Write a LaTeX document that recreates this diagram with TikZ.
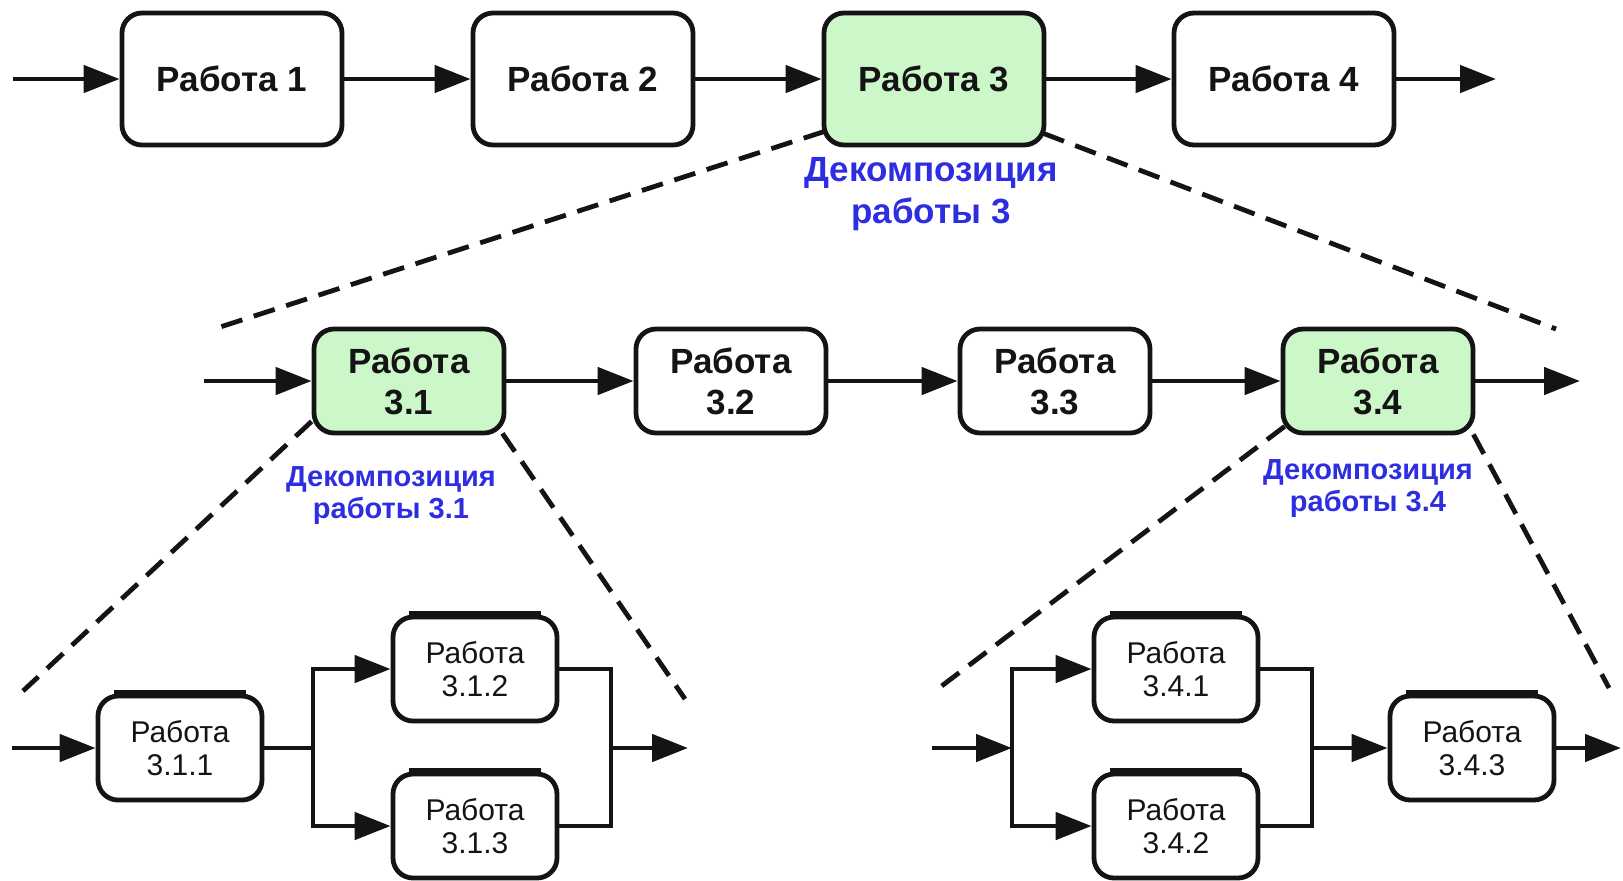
\documentclass[tikz,border=0pt]{standalone}
\usepackage{fontspec}
\setmainfont{Liberation Sans}
\usetikzlibrary{arrows.meta,calc,backgrounds}
\definecolor{boxgreen}{RGB}{204,247,200}
\definecolor{lblue}{RGB}{45,45,225}
\definecolor{ink}{RGB}{20,20,20}
\begin{document}
\begin{tikzpicture}[x=0.5pt,y=-0.5pt,
  task/.style={draw=ink, line width=2.4pt, rounded corners=10pt, fill=white, inner sep=0pt, align=center, text=ink},
  bigtask/.style={task, minimum width=110pt, minimum height=66pt, font=\bfseries\fontsize{17.5}{21}\selectfont},
  midtask/.style={task, minimum width=95pt, minimum height=52pt, font=\bfseries\fontsize{17.5}{20.5}\selectfont},
  smalltask/.style={task, minimum width=82pt, minimum height=52pt, font=\fontsize{15}{16.5}\selectfont},
  sel/.style={fill=boxgreen},
  flow/.style={draw=ink, line width=2.4pt, -{Triangle[length=18pt,width=13.5pt]}},
  link/.style={draw=ink, line width=2.4pt},
  topbar/.style={draw=ink, line width=3pt},
  decomp/.style={draw=ink, line width=2.4pt, dash pattern=on 11pt off 6pt},
  lbl/.style={text=lblue, align=center, font=\bfseries\fontsize{17.5}{21}\selectfont},
  slbl/.style={text=lblue, align=center, font=\bfseries\fontsize{14.5}{16}\selectfont},
]
\useasboundingbox (0,0) rectangle (1623,880);

% top row
\node[bigtask] (r1) at (232,79) {Работа 1};
\node[bigtask] (r2) at (583,79) {Работа 2};
\node[bigtask,sel] (r3) at (934,79) {Работа 3};
\node[bigtask] (r4) at (1284,79) {Работа 4};
\coordinate (a0) at (13,79);
\coordinate (a5) at (1496,79);
\draw[flow] (a0) -- (r1.west);
\draw[flow] (r1) -- (r2);
\draw[flow] (r2) -- (r3);
\draw[flow] (r3) -- (r4);
\draw[flow] (r4.east) -- (a5);
\node[lbl] (d3) at (931,194) {Декомпозиция\\работы 3};

% middle row
\node[midtask,sel] (r31) at (409,381) {Работа\\3.1};
\node[midtask] (r32) at (731,381) {Работа\\3.2};
\node[midtask] (r33) at (1055,381) {Работа\\3.3};
\node[midtask,sel] (r34) at (1378,381) {Работа\\3.4};
\coordinate (b0) at (204,381);
\coordinate (b5) at (1580,381);
\draw[flow] (b0) -- (r31.west);
\draw[flow] (r31) -- (r32);
\draw[flow] (r32) -- (r33);
\draw[flow] (r33) -- (r34);
\draw[flow] (r34.east) -- (b5);
\node[slbl] (d31) at (391,496) {Декомпозиция\\работы 3.1};
\node[slbl] (d34) at (1368,489) {Декомпозиция\\работы 3.4};

% bottom left group
\node[smalltask] (r311) at (180,748) {Работа\\3.1.1};
\node[smalltask] (r312) at (475,669) {Работа\\3.1.2};
\node[smalltask] (r313) at (475,826) {Работа\\3.1.3};
\coordinate (c0) at (12,748);
\coordinate (cj) at (313,748);
\coordinate (cm) at (611,748);
\coordinate (c5) at (688,748);
\draw[flow] (c0) -- (r311.west);
\draw[link] (r311.east) -- (cj);
\draw[flow] (cj) |- (r312.west);
\draw[flow] (cj) |- (r313.west);
\draw[link] (r312.east) -| (cm);
\draw[link] (r313.east) -| (cm);
\draw[flow] (cm) -- (c5);

% bottom right group
\node[smalltask] (r341) at (1176,669) {Работа\\3.4.1};
\node[smalltask] (r342) at (1176,826) {Работа\\3.4.2};
\node[smalltask] (r343) at (1472,748) {Работа\\3.4.3};
\coordinate (e0) at (932,748);
\coordinate (ej) at (1012,748);
\coordinate (em) at (1312,748);
\coordinate (e5) at (1621,748);
\draw[flow] (e0) -- (ej);
\draw[flow] (ej) |- (r341.west);
\draw[flow] (ej) |- (r342.west);
\draw[link] (r341.east) -| (em);
\draw[link] (r342.east) -| (em);
\draw[flow] (em) -- (r343.west);
\draw[flow] (r343.east) -- (e5);

\foreach \n in {r311,r312,r313,r341,r342,r343}
  \draw[topbar] ($(\n.north west)+(18,-0.5)$) -- ($(\n.north east)+(-18,-0.5)$);

% decomposition dashed lines
\coordinate (p1) at (214,329);
\coordinate (p2) at (1556,329);
\coordinate (q1) at (23,691);
\coordinate (q2) at (685,699);
\coordinate (s1) at (935,691);
\coordinate (s2) at (1609,688);
\begin{scope}[on background layer]
\draw[decomp] ($(r3.south west)+(3,-16)$) -- (p1);
\draw[decomp] ($(r3.south east)+(-3,-14)$) -- (p2);
\draw[decomp] ($(r31.south west)+(0,-14)$) -- (q1);
\draw[decomp] ($(r31.south east)+(-4,-2)$) -- (q2);
\draw[decomp] ($(r34.south west)+(4,-9)$) -- (s1);
\draw[decomp] ($(r34.south east)+(-2,-1)$) -- (s2);
\end{scope}
\end{tikzpicture}
\end{document}
